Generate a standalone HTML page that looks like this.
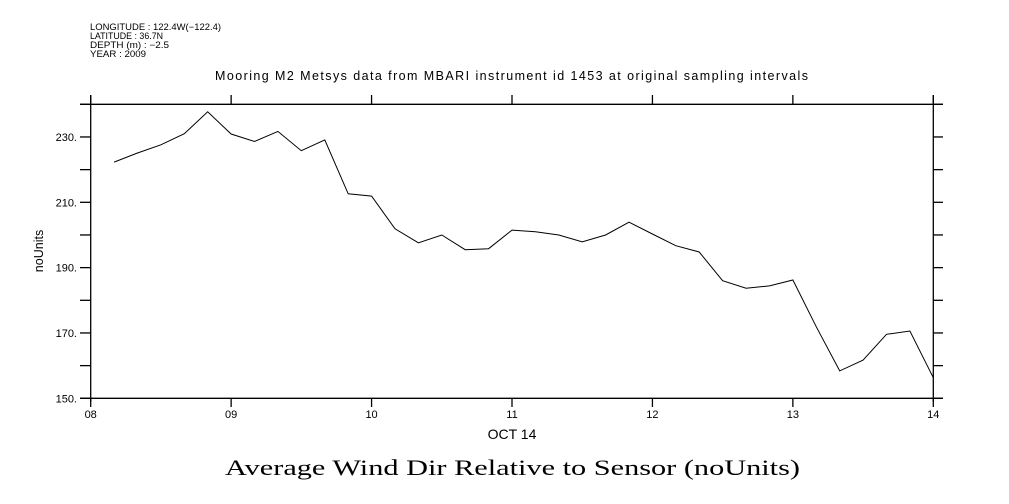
<!DOCTYPE html>
<html><head><meta charset="utf-8"><style>
html,body{margin:0;padding:0;background:#fff;}
svg{display:block;}
text{font-family:"Liberation Sans",sans-serif;fill:#000;}
</style></head><body>
<svg id="chart" width="1009" height="504" viewBox="0 0 1009 504">
<g font-size="9">
<text x="90" y="30" textLength="131" lengthAdjust="spacingAndGlyphs">LONGITUDE : 122.4W(−122.4)</text>
<text x="90" y="39" textLength="73" lengthAdjust="spacingAndGlyphs">LATITUDE : 36.7N</text>
<text x="90" y="48" textLength="79" lengthAdjust="spacingAndGlyphs">DEPTH (m) : −2.5</text>
<text x="90" y="57" textLength="56" lengthAdjust="spacingAndGlyphs">YEAR : 2009</text>
</g>
<text x="215" y="80" font-size="12.5" textLength="593" lengthAdjust="spacing">Mooring M2 Metsys data from MBARI instrument id 1453 at original sampling intervals</text>
<text x="225" y="475" font-size="22" textLength="575" lengthAdjust="spacingAndGlyphs" style="font-family:'Liberation Serif',serif">Average Wind Dir Relative to Sensor (noUnits)</text>
<text x="512" y="439" font-size="14" text-anchor="middle">OCT 14</text>
<text transform="translate(43,251) rotate(-90)" font-size="12.5" text-anchor="middle">noUnits</text>
<g id="axes"></g>
<path id="series" fill="none" stroke="#000" stroke-width="1"/>
</svg>
<script>
const minutes = [];
for (let i = 1; i <= 36; i++) minutes.push(480 + i * 10);
const values = [222.3,225.1,227.6,231.0,237.7,230.9,228.6,231.7,225.8,229.1,212.6,211.9,201.9,197.6,200.0,195.5,195.8,201.5,201.0,200.0,197.9,200.0,203.9,200.3,196.7,194.8,186.0,183.7,184.4,186.2,171.9,158.4,161.7,169.6,170.6,156.3];
const yTicks = [150,170,190,210,230];
const yMinor = [160,180,200,220,240];
const xTickHours = [8,9,10,11,12,13,14];
const xTickLabels = ["08","09","10","11","12","13","14"];

const L=90.7,R=933.3,T=104.3,B=398.3;
const x = m => L + (m - 480) / 360 * (R - L);
const y = v => B - (v - 150) / 90 * (B - T);
const NS="http://www.w3.org/2000/svg";
const ax=document.getElementById('axes');
function ln(x1,y1,x2,y2,name){const e=document.createElementNS(NS,'line');
e.setAttribute('x1',x1);e.setAttribute('y1',y1);e.setAttribute('x2',x2);e.setAttribute('y2',y2);
e.setAttribute('stroke','#000');e.setAttribute('stroke-width','1.3');


ax.appendChild(e);}
ln(80,T,943,T,'top-frame');ln(80,B,943,B,'x-axis-line');
ln(L,95,L,402,'y-axis-line');ln(R,95,R,402,'right-frame');
yTicks.concat(yMinor).forEach(v=>{ln(80,y(v),L,y(v),'y-tick');ln(R,y(v),943,y(v),'y-tick-right');});
yTicks.forEach(v=>{const t=document.createElementNS(NS,'text');
t.setAttribute('x',77);t.setAttribute('y',y(v)+4);t.setAttribute('font-size','11');t.setAttribute('text-anchor','end');
t.textContent=v+'.';


ax.appendChild(t);});
xTickHours.forEach((h,i)=>{const px=x(h*60);ln(px,95,px,T,'x-tick-top');ln(px,B,px,407,'x-tick');
const t=document.createElementNS(NS,'text');
t.setAttribute('x',px);t.setAttribute('y',418);t.setAttribute('font-size','11');t.setAttribute('text-anchor','middle');
t.textContent=xTickLabels[i];


ax.appendChild(t);});
document.getElementById('series').setAttribute('d',values.map((v,i)=>(i?'L':'M')+x(minutes[i]).toFixed(1)+' '+y(v).toFixed(1)).join(' '));
</script>
</body></html>
